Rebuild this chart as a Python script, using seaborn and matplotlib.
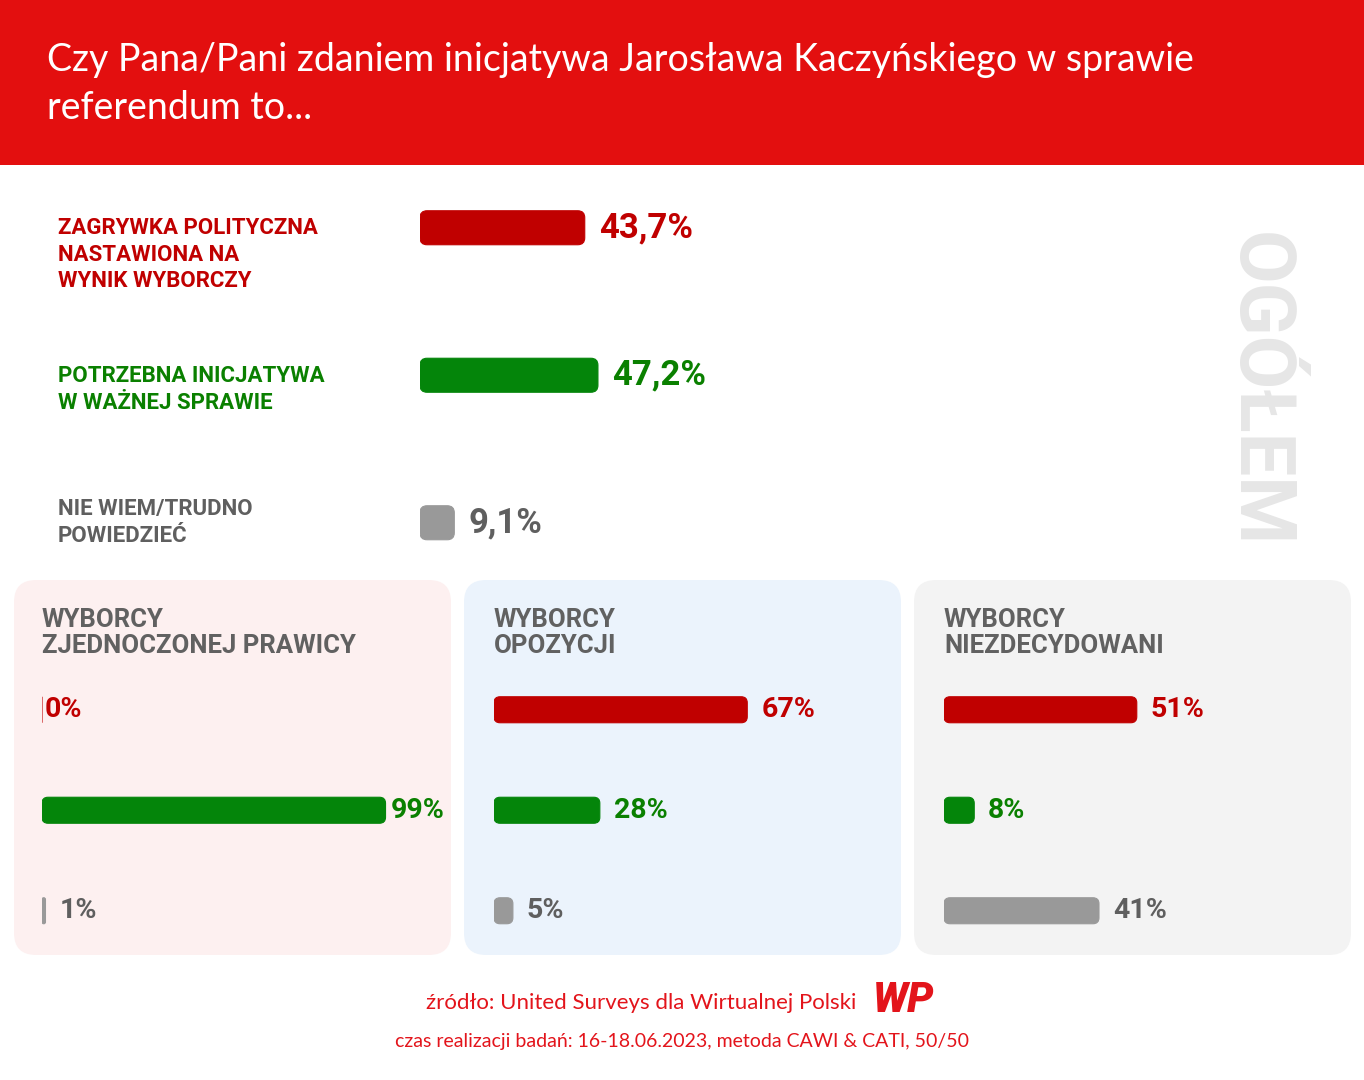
import matplotlib as mpl
import matplotlib.pyplot as plt
import pandas as pd
import seaborn as sns
from matplotlib.patches import FancyBboxPatch, Rectangle

W, H = 1364, 1080

# --- data ---
answers = [
    "Zagrywka polityczna nastawiona na wynik wyborczy",
    "Potrzebna inicjatywa w ważnej sprawie",
    "Nie wiem/trudno powiedzieć",
]
answer_labels = [
    "ZAGRYWKA POLITYCZNA\nNASTAWIONA NA\nWYNIK WYBORCZY",
    "POTRZEBNA INICJATYWA\nW WAŻNEJ SPRAWIE",
    "NIE WIEM/TRUDNO\nPOWIEDZIEĆ",
]
overall = [43.7, 47.2, 9.1]

groups = [
    "WYBORCY\nZJEDNOCZONEJ PRAWICY",
    "WYBORCY\nOPOZYCJI",
    "WYBORCY\nNIEZDECYDOWANI",
]
right_voters = [0, 99, 1]
opposition_voters = [67, 28, 5]
undecided_voters = [51, 8, 41]

title = "Czy Pana/Pani zdaniem inicjatywa Jarosława Kaczyńskiego w sprawie\nreferendum to..."
source = "źródło: United Surveys dla Wirtualnej Polski"
fieldwork = "czas realizacji badań: 16-18.06.2023, metoda CAWI & CATI, 50/50"

# --- style ---
BAR_COLORS = ["#C00000", "#04850A", "#999999"]
TEXT_COLORS = ["#C00000", "#0A8000", "#5F5F5F"]
HEADER_RED = "#E30F0F"
PANEL_COLORS = ["#FDF0F0", "#EBF3FC", "#F3F3F3"]
TITLE_FONT = ["Lato", "DejaVu Sans"]
LABEL_FONT = ["Roboto", "DejaVu Sans"]

sns.set_theme(style="white")
plt.rcParams["font.family"] = LABEL_FONT


def px_rect(left, top, width, height):
    return [left / W, 1 - (top + height) / H, width / W, height / H]


def round_bars(ax, radius_px):
    bbox = ax.get_window_extent()
    x0, x1 = ax.get_xlim()
    y0, y1 = ax.get_ylim()
    ux = abs(x1 - x0) / bbox.width
    uy = abs(y1 - y0) / bbox.height
    for p in list(ax.patches):
        x, y, w, h = p.get_x(), p.get_y(), p.get_width(), p.get_height()
        r = min(radius_px, w / ux / 2, abs(h) / uy / 2) * ux
        fc = p.get_facecolor()
        rounded = FancyBboxPatch(
            (x, y), w, h,
            boxstyle=f"round,pad=0,rounding_size={r}",
            mutation_aspect=uy / ux,
            fc=fc, ec=fc, lw=0.8,
        )
        p.remove()
        ax.add_patch(rounded)


def bar_panel(fig, values, rect, bar_h, radius, labels, fontsize, gaps):
    ax = fig.add_axes(rect, zorder=2)
    df = pd.DataFrame({"answer": answers, "value": values})
    sns.barplot(
        data=df, x="value", y="answer", hue="answer", palette=BAR_COLORS,
        saturation=1, legend=False, width=bar_h, ax=ax,
    )
    ax.set_xlim(0, 100)
    ax.set_ylim(2.5, -0.5)
    ax.axis("off")
    ax.patch.set_alpha(0)
    round_bars(ax, radius)
    for i, (v, lab) in enumerate(zip(values, labels)):
        ax.annotate(
            lab, (v, i), xytext=(gaps[i], 0), textcoords="offset points",
            ha="left", va="center", fontsize=fontsize, fontweight="bold",
            color=TEXT_COLORS[i],
        )
    return ax


fig = plt.figure(figsize=(W / 100, H / 100), dpi=100)
fig.patch.set_facecolor("white")

bg = fig.add_axes([0, 0, 1, 1], zorder=0)
bg.set_xlim(0, W)
bg.set_ylim(H, 0)
bg.axis("off")

# header
bg.add_patch(Rectangle((0, 0), W, 165, color=HEADER_RED, lw=0))
bg.text(47, 84, title, ha="left", va="center", color="white", fontsize=27,
        family=TITLE_FONT, linespacing=1.4)

# overall section
label_tops = [227, 375, 508]
for lab, y, c in zip(answer_labels, label_tops, TEXT_COLORS):
    bg.text(58, y - 10, lab, ha="left", va="top", color=c, fontsize=16,
            fontweight="bold", linespacing=1.27)

overall_labels = [f"{v:.1f}".replace(".", ",") + "%" for v in overall]
bar_panel(fig, overall, px_rect(420, 154, 377, 442.5), 34 / 147.5, 7,
          overall_labels, 25, [10, 10, 10])

bg.text(1258, 390, "OGÓŁEM", rotation=270, ha="center", va="center",
        color="#E6E6E6", fontsize=56, fontweight="bold")

# group panels
panel_lefts = [14, 464, 914]
bar_lefts = [42, 494, 944]
bar_scales = [3.47, 3.78, 3.78]
group_values = [right_voters, opposition_voters, undecided_voters]
for i, (grp, vals) in enumerate(zip(groups, group_values)):
    bg.add_patch(FancyBboxPatch(
        (panel_lefts[i], 580), 437, 375,
        boxstyle="round,pad=0,rounding_size=22",
        fc=PANEL_COLORS[i], ec="none",
    ))
    bg.text(bar_lefts[i], 608, grp, ha="left", va="top", color="#616161",
            fontsize=18.5, fontweight="bold", linespacing=1.12)
    gaps = [2, 4, 10] if i == 0 else [10, 10, 10]
    bar_panel(fig, vals, px_rect(bar_lefts[i], 659.5, 100 * bar_scales[i], 301.5),
              26 / 100.5, 6, [f"{v}%" for v in vals], 20.5, gaps)

# footer
bg.text(856, 1003, source, ha="right", va="center", color="#E3141B",
        fontsize=16, family=TITLE_FONT)
bg.text(873, 1001, "WP", ha="left", va="center", color="#E3141B",
        fontsize=30, fontweight="heavy", fontstyle="italic", family=LABEL_FONT)
bg.text(W / 2, 1042, fieldwork, ha="center", va="center", color="#E3141B",
        fontsize=14, family=TITLE_FONT)

fig.savefig("out.png", dpi=100)
